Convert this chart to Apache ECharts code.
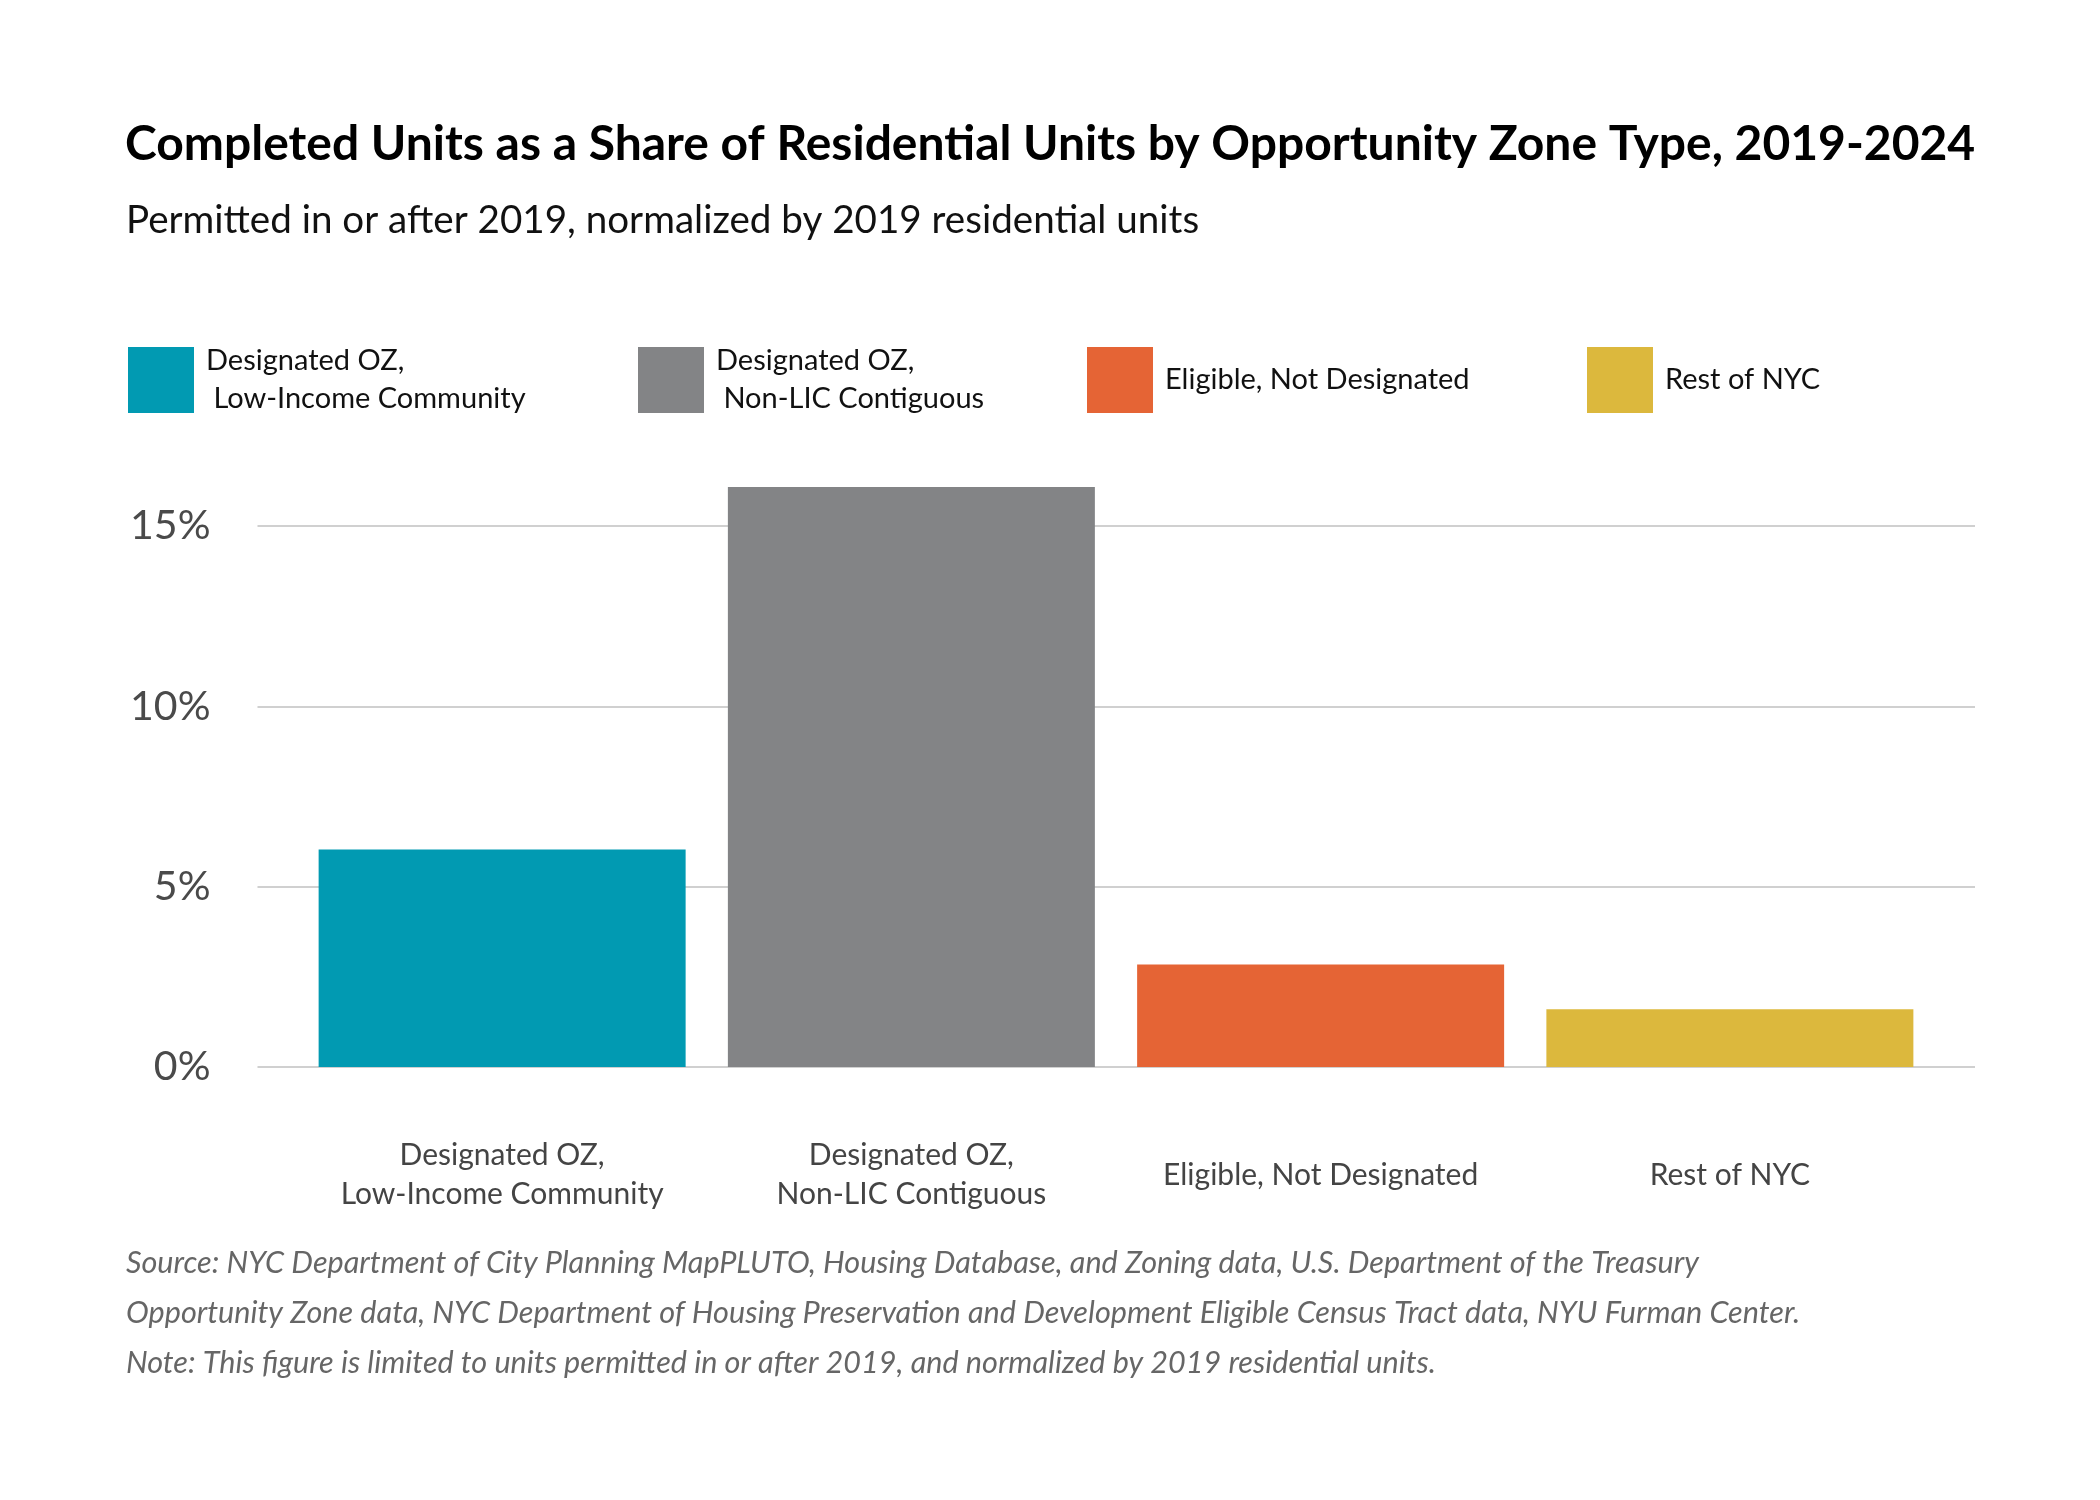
<!DOCTYPE html>
<html>
<head>
<meta charset="utf-8">
<script src="https://cdn.jsdelivr.net/npm/echarts@6/dist/echarts.min.js"></script>
<style>
html,body{margin:0;padding:0;background:#fff;}
#main{width:2100px;height:1500px;}
</style>
</head>
<body>
<div id="main"></div>
<script>
// data
var categories = ['Designated OZ,\nLow-Income Community', 'Designated OZ,\nNon-LIC Contiguous', 'Eligible, Not Designated', 'Rest of NYC'];
var legendNames = ['Designated OZ,\n Low-Income Community', 'Designated OZ,\n Non-LIC Contiguous', 'Eligible, Not Designated', 'Rest of NYC'];
var shares = [6.03, 16.08, 2.84, 1.60];
var yTicks = [0, 5, 10, 15];

var colors = ['#019ab2', '#838486', '#e56435', '#dcb83d'];
var legendLeft = [128, 638, 1087, 1587];
var legendTop = [342, 342, 347, 347];

var FONT = 'Lato';
var plotTop = 526, plotBottom = 1067;
var axisMax = yTicks[yTicks.length - 1];
var barMax = 20;
var barTop = plotBottom - (plotBottom - plotTop) * barMax / axisMax;

var myChart = echarts.init(document.getElementById('main'));

var series = [];
for (var i = 0; i < shares.length; i++) {
	var d = [];
	for (var j = 0; j < shares.length; j++) {
		d.push(j == i ? shares[j] : '-');
	}
	series.push({
		type: 'bar',
		name: legendNames[i],
		xAxisIndex: 1,
		yAxisIndex: 1,
		stack: 'one',
		barWidth: 367,
		itemStyle: {color: colors[i]},
		data: d
	});
}

var legends = [];
for (var i = 0; i < legendNames.length; i++) {
	legends.push({
		left: legendLeft[i],
		top: legendTop[i],
		padding: 0,
		data: [legendNames[i]],
		icon: 'rect',
		itemWidth: 66,
		itemHeight: 66,
		selectedMode: false,
		textStyle: {fontFamily: FONT, fontSize: 29, color: '#111', lineHeight: 38, padding: [0, 0, 0, 7]}
	});
}

var option = {
	backgroundColor: '#fff',
	animation: false,
	color: colors,
	title: [{
		text: 'Completed Units as a Share of Residential Units by Opportunity Zone Type, 2019-2024',
		left: 120,
		top: 116,
		textStyle: {fontFamily: FONT, fontSize: 48, fontWeight: 'bold', color: '#000'}
	}, {
		text: 'Permitted in or after 2019, normalized by 2019 residential units',
		left: 121,
		top: 196,
		textStyle: {fontFamily: FONT, fontSize: 38.6, fontWeight: 'normal', color: '#111'}
	}, {
		text: 'Source: NYC Department of City Planning MapPLUTO, Housing Database, and Zoning data, U.S. Department of the Treasury\nOpportunity Zone data, NYC Department of Housing Preservation and Development Eligible Census Tract data, NYU Furman Center.\nNote: This figure is limited to units permitted in or after 2019, and normalized by 2019 residential units.',
		left: 121,
		top: 1233,
		textStyle: {fontFamily: FONT, fontSize: 30.6, fontStyle: 'italic', fontWeight: 'normal', color: '#666', lineHeight: 50}
	}],
	legend: legends,
	grid: [
		{left: 257.5, right: 125, top: plotTop, bottom: 1500 - plotBottom},
		{left: 297.5, right: 165.5, top: barTop, bottom: 1500 - plotBottom}
	],
	xAxis: [{
		type: 'category',
		gridIndex: 0,
		data: categories,
		show: false
	}, {
		type: 'category',
		gridIndex: 1,
		data: categories,
		axisLine: {show: false},
		axisTick: {show: false},
		axisLabel: {
			interval: 0,
			margin: 108,
			verticalAlign: 'middle',
			fontFamily: FONT,
			fontSize: 30,
			lineHeight: 39,
			color: '#444'
		}
	}],
	yAxis: [{
		type: 'value',
		gridIndex: 0,
		min: 0,
		max: axisMax,
		interval: 5,
		axisLine: {show: false},
		axisTick: {show: false},
		axisLabel: {
			formatter: '{value}%',
			margin: 47,
			fontFamily: FONT,
			fontSize: 41,
			color: '#4a4a4a'
		},
		splitLine: {lineStyle: {color: '#d0d0d0', width: 2}}
	}, {
		type: 'value',
		gridIndex: 1,
		min: 0,
		max: barMax,
		show: false,
		splitLine: {show: false}
	}],
	series: series
};

myChart.setOption(option);
</script>
</body>
</html>
